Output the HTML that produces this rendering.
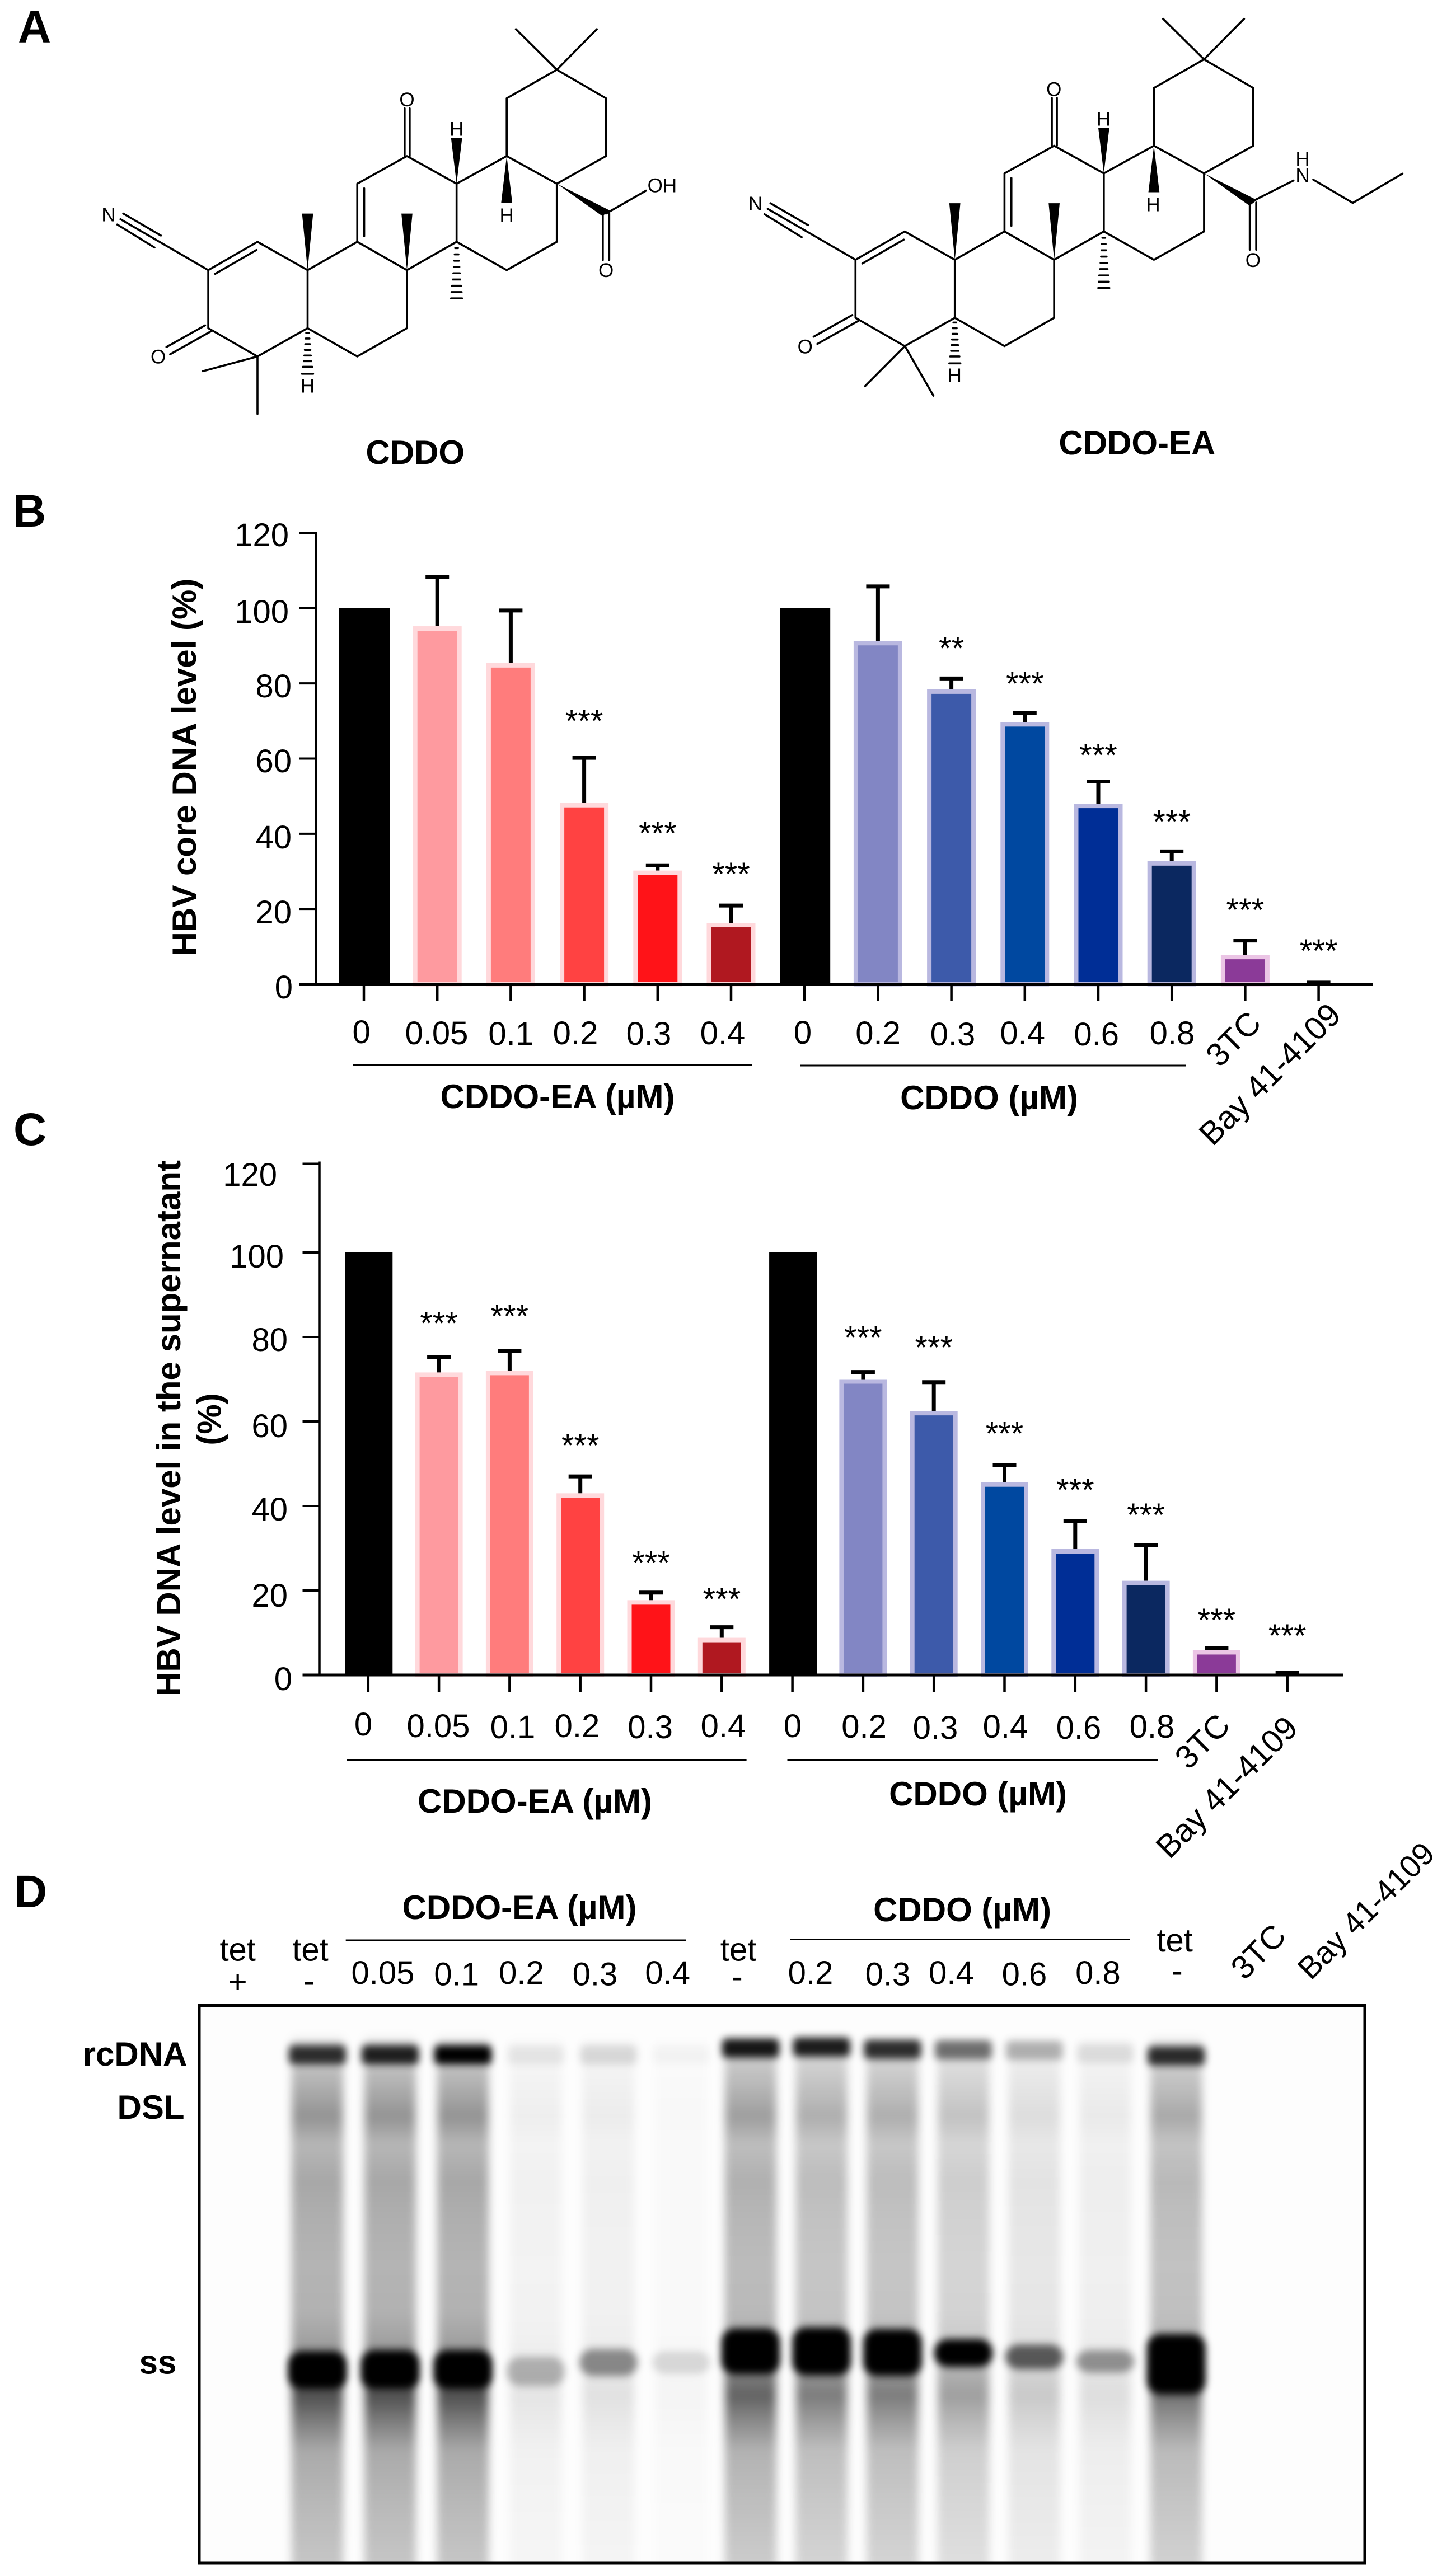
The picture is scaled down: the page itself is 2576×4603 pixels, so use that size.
<!DOCTYPE html>
<html lang="en">
<head>
<meta charset="utf-8">
<title>CDDO and CDDO-EA inhibit HBV DNA</title>
<style>
html,body{margin:0;padding:0;background:#fff}
svg{display:block}
text{font-family:"Liberation Sans",Arial,sans-serif;fill:#000}
.t{font-size:58px}
.b{font-size:60px;font-weight:bold}
.m{text-anchor:middle}
.e{text-anchor:end}
.p{font-size:82px;font-weight:bold}
.a{font-size:35px;text-anchor:middle}
.s{font-size:58px}
.bond{fill:none;stroke:#000;stroke-width:3.6;stroke-linecap:round;stroke-linejoin:round}
.bond path,.bond line{vector-effect:non-scaling-stroke}
</style>
</head>
<body>
<svg id="figure" xmlns="http://www.w3.org/2000/svg" width="2576" height="4603" viewBox="0 0 2576 4603">
<defs>
  <g id="steroid-core">
    <path class="bond" vector-effect="non-scaling-stroke" d="M453 860L560 770L669 860L669 1045L560 1135L453 1045L453 860M468 872L558 796M453 860L262 698M268 680L350 750M255 715L336 788M446 1036L362 1105M460 1054L370 1128M669 860L777 770L885 860L885 1045L777 1135L669 1045M777 770L777 585L885 497L993 585L993 770L885 860M792 752L792 600M880 497L880 345M891 497L891 345M993 585L1102 497L1211 585L1211 770L1102 860L993 770M1102 497L1102 313L1211 222L1318 313L1318 497L1211 585M1211 222L1122 93M1211 222L1298 93"/>
    <path fill="#000" d="M669 860L657 680L681 680ZM885 860L873 680L897 680ZM993 585L981 440L1005 440ZM1102 497L1090 645L1114 645ZM1211 585L1326 670L1310 688Z"/>
    <path class="bond" vector-effect="non-scaling-stroke" d="M666 1060H672M665 1078H673M664 1096H674M663 1114H675M662 1132H676M661 1150H677M659 1168H679M657 1190H681M990 790H996M989 810H997M988 830H998M987 850H999M986 870H1000M985 890H1001M983 910H1003M982 930H1004M981 950H1005"/>
  </g>
  <clipPath id="gel-clip"><rect x="356" y="3584" width="2082" height="996"/></clipPath>
  <filter id="smear-blur" filterUnits="userSpaceOnUse" x="300" y="3540" width="2200" height="1100"><feGaussianBlur stdDeviation="8"/></filter>
  <filter id="band-blur" filterUnits="userSpaceOnUse" x="300" y="3540" width="2200" height="1100"><feGaussianBlur stdDeviation="7"/></filter>
  <linearGradient id="lane-gradient" gradientUnits="userSpaceOnUse" x1="0" y1="3640" x2="0" y2="4580">
    <stop offset="0" stop-color="#000" stop-opacity=".05"/>
    <stop offset=".03" stop-color="#000" stop-opacity=".2"/>
    <stop offset=".063" stop-color="#000" stop-opacity=".25"/>
    <stop offset=".151" stop-color="#000" stop-opacity=".42"/>
    <stop offset=".204" stop-color="#000" stop-opacity=".28"/>
    <stop offset=".274" stop-color="#000" stop-opacity=".34"/>
    <stop offset=".346" stop-color="#000" stop-opacity=".31"/>
    <stop offset=".434" stop-color="#000" stop-opacity=".29"/>
    <stop offset=".522" stop-color="#000" stop-opacity=".3"/>
    <stop offset=".576" stop-color="#000" stop-opacity=".36"/>
    <stop offset=".682" stop-color="#000" stop-opacity=".68"/>
    <stop offset=".726" stop-color="#000" stop-opacity=".52"/>
    <stop offset=".787" stop-color="#000" stop-opacity=".33"/>
    <stop offset=".876" stop-color="#000" stop-opacity=".28"/>
    <stop offset=".99" stop-color="#000" stop-opacity=".22"/>
  </linearGradient>
</defs>

<!-- Panel A -->
<text class="p" x="32" y="76">A</text>
<g>
  <g transform="scale(.8214 .5612)">
    <use href="#steroid-core"/>
    <path class="bond" vector-effect="non-scaling-stroke" d="M560 1135L441 1182M560 1135L560 1318M1318 680L1405 607M1311 680L1311 828M1325 680L1325 828"/>
  </g>
  <text class="a" x="193.9" y="395.5">N</text>
  <text class="a" x="282.6" y="649.5">O</text>
  <text class="a" x="549.5" y="701.7">H</text>
  <text class="a" x="727" y="189.8">O</text>
  <text class="a" x="815.7" y="242.5">H</text>
  <text class="a" x="905.2" y="396.9">H</text>
  <text class="a" x="1182.9" y="343.5">OH</text>
  <text class="a" x="1082.6" y="495.2">O</text>
</g>
<text class="b m" x="741.7" y="829">CDDO</text>

<g>
  <g transform="translate(1156.2 -18.5) scale(.8214 .5612)">
    <use href="#steroid-core"/>
  </g>
  <g transform="translate(1288 0) scale(.8214 .5612)">
    <path class="bond" vector-effect="non-scaling-stroke" d="M400 1102L313 1230M400 1102L462 1260M1157 640L1245 575M1288 572L1374 646L1482 553M1150 645L1150 795M1164 645L1164 795"/>
  </g>
  <text class="a" x="1349.6" y="376.2">N</text>
  <text class="a" x="1438.3" y="631.5">O</text>
  <text class="a" x="1705.3" y="683.2">H</text>
  <text class="a" x="1882.7" y="171.3">O</text>
  <text class="a" x="1971.4" y="224.5">H</text>
  <text class="a" x="2060" y="377.3">H</text>
  <text class="a" x="2238.4" y="477.2">O</text>
  <text class="a" x="2327" y="325.5">N</text>
  <text class="a" x="2327" y="295.9">H</text>
</g>
<text class="b m" x="2031.4" y="812">CDDO-EA</text>

<!-- Panel B -->
<text class="p" x="23" y="941">B</text>
<g id="chart-b">
  <text class="b m" transform="translate(350 1371) rotate(-90)">HBV core DNA level (%)</text>
  <g>
    <text class="t e" x="516" y="976">120</text>
    <text class="t e" x="516" y="1113">100</text>
    <text class="t e" x="521" y="1246">80</text>
    <text class="t e" x="521" y="1380">60</text>
    <text class="t e" x="521" y="1516">40</text>
    <text class="t e" x="521" y="1650">20</text>
    <text class="t e" x="523" y="1784">0</text>
  </g>
  <g>
    <text class="t m" x="645.6" y="1864">0</text>
    <text class="t m" x="780" y="1866">0.05</text>
    <text class="t m" x="912.7" y="1867">0.1</text>
    <text class="t m" x="1028" y="1866">0.2</text>
    <text class="t m" x="1159" y="1867">0.3</text>
    <text class="t m" x="1291" y="1866">0.4</text>
    <text class="t m" x="1434" y="1865">0</text>
    <text class="t m" x="1568.6" y="1866">0.2</text>
    <text class="t m" x="1702" y="1868">0.3</text>
    <text class="t m" x="1826.7" y="1866">0.4</text>
    <text class="t m" x="1958.7" y="1868">0.6</text>
    <text class="t m" x="2094" y="1866">0.8</text>
    <text class="t m" transform="translate(2203 1856) rotate(-45)" dy=".35em">3TC</text>
    <text class="t m" transform="translate(2268 1919) rotate(-45)" dy=".35em">Bay 41-4109</text>
  </g>
  <rect x="630" y="1901.5" width="714" height="3"/>
  <rect x="1430" y="1902.5" width="688" height="3"/>
  <text class="b m" x="996" y="1980">CDDO-EA (µM)</text>
  <text class="b m" x="1767" y="1982">CDDO (µM)</text>
</g>

<!-- Panel C -->
<text class="p" x="24" y="2046">C</text>
<g id="chart-c">
  <text class="b m" transform="translate(322 2552) rotate(-90)">HBV DNA level in the supernatant</text>
  <text class="b m" transform="translate(394.5 2536) rotate(-90)">(%)</text>
  <g>
    <text class="t e" x="495" y="2119">120</text>
    <text class="t e" x="507" y="2265">100</text>
    <text class="t e" x="514" y="2414">80</text>
    <text class="t e" x="514" y="2568">60</text>
    <text class="t e" x="514" y="2717">40</text>
    <text class="t e" x="514" y="2871">20</text>
    <text class="t e" x="522" y="3020">0</text>
  </g>
  <g>
    <text class="t m" x="649" y="3101">0</text>
    <text class="t m" x="783" y="3104">0.05</text>
    <text class="t m" x="916" y="3106">0.1</text>
    <text class="t m" x="1031" y="3104">0.2</text>
    <text class="t m" x="1161.6" y="3106">0.3</text>
    <text class="t m" x="1292" y="3104">0.4</text>
    <text class="t m" x="1416" y="3104">0</text>
    <text class="t m" x="1543.6" y="3105">0.2</text>
    <text class="t m" x="1671" y="3107">0.3</text>
    <text class="t m" x="1796" y="3105">0.4</text>
    <text class="t m" x="1927" y="3107">0.6</text>
    <text class="t m" x="2058" y="3105">0.8</text>
    <text class="t m" transform="translate(2147.5 3111) rotate(-45)" dy=".35em">3TC</text>
    <text class="t m" transform="translate(2191 3193) rotate(-45)" dy=".35em">Bay 41-4109</text>
  </g>
  <rect x="619.6" y="3143" width="714" height="3"/>
  <rect x="1406.5" y="3143" width="661.5" height="3"/>
  <text class="b m" x="955.5" y="3239">CDDO-EA (µM)</text>
  <text class="b m" x="1747" y="3226">CDDO (µM)</text>
</g>

<!-- Panel D -->
<text class="p" x="25" y="3408">D</text>
<g>
  <text class="t m" x="424.7" y="3503.6">tet</text>
  <text class="t m" x="424.7" y="3561">+</text>
  <text class="t m" x="554.5" y="3503.6">tet</text>
  <text class="t m" x="552" y="3560">-</text>
  <text class="b m" x="928" y="3429">CDDO-EA (µM)</text>
  <rect x="617.7" y="3465.5" width="608" height="3"/>
  <text class="t m" x="684" y="3545">0.05</text>
  <text class="t m" x="815.7" y="3547.6">0.1</text>
  <text class="t m" x="931.5" y="3545">0.2</text>
  <text class="t m" x="1063" y="3547.6">0.3</text>
  <text class="t m" x="1192.7" y="3545">0.4</text>
  <text class="t m" x="1319" y="3503.6">tet</text>
  <text class="t m" x="1317" y="3552">-</text>
  <text class="b m" x="1719" y="3433">CDDO (µM)</text>
  <rect x="1412" y="3464" width="607" height="3"/>
  <text class="t m" x="1448" y="3545">0.2</text>
  <text class="t m" x="1586" y="3547.6">0.3</text>
  <text class="t m" x="1699.5" y="3545">0.4</text>
  <text class="t m" x="1830" y="3547.6">0.6</text>
  <text class="t m" x="1961.5" y="3545">0.8</text>
  <text class="t m" x="2098.7" y="3487">tet</text>
  <text class="t m" x="2103" y="3542">-</text>
  <text class="t m" transform="translate(2247.5 3487) rotate(-45)" dy=".35em">3TC</text>
  <text class="t m" style="font-size:56px" transform="translate(2440 3414) rotate(-45)" dy=".35em">Bay 41-4109</text>
</g>
<text class="b m" x="241" y="3691">rcDNA</text>
<text class="b m" x="269.5" y="3786">DSL</text>
<text class="b m" x="282" y="4241.6">ss</text>
<rect x="356" y="3584" width="2082" height="996" fill="#fdfdfd"/>
<g clip-path="url(#gel-clip)">
  <g id="gel-smears" filter="url(#smear-blur)"></g>
  <g id="gel-bands" filter="url(#band-blur)"></g>
</g>
<rect x="356" y="3583.5" width="2082" height="996.5" fill="none" stroke="#000" stroke-width="5"/>
</svg>

<script>
// --- Shared categories ---
const categories = ['0', '0.05', '0.1', '0.2', '0.3', '0.4', '0', '0.2', '0.3', '0.4', '0.6', '0.8', '3TC', 'Bay 41-4109'];
const barFills = ['#000000', '#fe9a9f', '#ff7c7c', '#ff4242', '#ff1318', '#b01820', '#000000', '#8286c4', '#3d5aaa', '#0048a0', '#002e96', '#0b2860', '#8b3a98', '#ffffff'];
const barEdges = ['#000000', '#ffd9dc', '#ffd9dc', '#ffd9dc', '#ffd9dc', '#ffd9dc', '#000000', '#b9b8e0', '#b9b8e0', '#b9b8e0', '#b9b8e0', '#b9b8e0', '#ebc5e5', '#ffffff'];

// --- Panel B: HBV core DNA level (%) ---
const coreTicks = [0, 20, 40, 60, 80, 100, 120];
const coreValues = [100, 95.2, 85.4, 48.2, 30.2, 16.3, 100, 91.3, 78.4, 69.7, 48, 32.7, 7.8, 0];
const coreErrorTops = [null, 108.3, 99.4, 60.2, 31.6, 20.9, null, 105.8, 81.3, 72.2, 53.9, 35.3, 11.6, 0.4];
const coreStars = ['', '', '', '***', '***', '***', '', '', '**', '***', '***', '***', '***', '***'];
const coreStarLevels = [0, 0, 0, 71, 41.2, 30.3, 0, 0, 90.4, 81, 61.9, 44.2, 20.8, 9.9];

// --- Panel C: HBV DNA level in the supernatant (%) ---
const supTicks = [0, 20, 40, 60, 80, 100, 121];
const supValues = [100, 71.6, 72, 43, 17.7, 8.8, 100, 70, 62.5, 45.6, 29.8, 22.3, 5.9, 0];
const supErrorTops = [null, 75.3, 76.7, 47, 19.5, 11.3, null, 71.7, 69.3, 49.7, 36.4, 30.8, 6.3, 0.6];
const supStars = ['', '***', '***', '***', '***', '***', '', '***', '***', '***', '***', '***', '***', '***'];
const supStarLevels = [0, 84.2, 85.8, 55.2, 27.5, 18.9, 0, 80.8, 78.4, 58.1, 44.7, 38.8, 13.9, 10.2];

// --- Panel D: relative lane signal, read by eye (0 = none, 1 = saturated) ---
const laneNames = ['tet-', 'ea-0.05', 'ea-0.1', 'ea-0.2', 'ea-0.3', 'ea-0.4', 'tet-', 'cddo-0.2', 'cddo-0.3', 'cddo-0.4', 'cddo-0.6', 'cddo-0.8', 'tet-'];
const rcSignal = [.78, .85, 1, .07, .12, .03, .9, .88, .8, .52, .27, .1, .8];
const smearSignal = [1, 1.05, 1.05, .14, .16, .05, .9, .75, .75, .55, .3, .18, .8];
const ssSignal = [1, 1, 1, .26, .42, .13, 1, 1, 1, 1, .6, .38, 1];
const ssSpread = [68, 70, 70, 52, 48, 40, 82, 86, 84, 50, 44, 40, 108];
const rcMigration = [8.8, 8.8, 8.8, 8.8, 8.8, 8.8, 7.6, 7.4, 7.8, 7.9, 8, 8.5, 9];
const ssMigration = [65.4, 65.3, 65.3, 65.6, 64, 64, 62, 62, 62.2, 62.3, 63, 63.8, 64.3];

const NS = 'http://www.w3.org/2000/svg';
function mk(tag, parent, attrs) {
  const node = document.createElementNS(NS, tag);
  for (const k in attrs) node.setAttribute(k, attrs[k]);
  parent.appendChild(node);
  return node;
}

function drawBarChart(root, values, errorTops, stars, starLevels, ticks, g) {
  const y = v => g.base - v * g.unit;
  const x = i => g.x0 + g.step * i;

  // y axis
  const yAxis = mk('line', root, {x1: g.axisX, x2: g.axisX, y1: g.axisTop, y2: g.base + 2, stroke: '#000', 'stroke-width': 4.5});
  
  
  ticks.forEach(t => {
    const tick = mk('line', root, {x1: g.axisX - 30, x2: g.axisX, y1: y(t), y2: y(t), stroke: '#000', 'stroke-width': 4});
    
    
  });

  // bars, error bars, significance marks
  categories.forEach((c, i) => {
    const filled = barFills[i] === barEdges[i];
    const w = filled ? g.blackWidth : g.barWidth;
    const lw = filled ? 0 : 8;
    const cx = x(i) + (filled ? 1 : 0);
    if (errorTops[i] !== null) {
      const top = y(errorTops[i]);
      const stem = mk('line', root, {x1: x(i), x2: x(i), y1: y(values[i]), y2: top, stroke: '#000', 'stroke-width': 7});
      
      
      const cap = mk('line', root, {x1: x(i) - 21, x2: x(i) + 21, y1: top, y2: top, stroke: '#000', 'stroke-width': 7});
      
      
    }
    if (values[i] > 0) {
      const bar = mk('rect', root, {
        x: cx - w / 2 + lw / 2, y: y(values[i]) + lw / 2,
        width: w - lw, height: Math.max(0, g.base - y(values[i]) - lw / 2),
        fill: barFills[i], stroke: barEdges[i], 'stroke-width': lw
      });
      
      
    }
    const xt = mk('line', root, {x1: x(i), x2: x(i), y1: g.base, y2: g.base + 30, stroke: '#000', 'stroke-width': 4.5});
    
    
    if (stars[i]) {
      const s = mk('text', root, {x: x(i), y: y(starLevels[i]) + 27, class: 's m'});
      s.textContent = stars[i];
      
      
    }
  });

  // x axis
  const xAxis = mk('line', root, {x1: g.axisX - 30, x2: g.axisEnd, y1: g.base, y2: g.base, stroke: '#000', 'stroke-width': 5});
  
  
}

drawBarChart(document.getElementById('chart-b'), coreValues, coreErrorTops, coreStars, coreStarLevels, coreTicks,
  {base: 1758.5, unit: 6.717, x0: 650, step: 131.2, axisX: 564.5, axisTop: 950.5, axisEnd: 2452, barWidth: 87, blackWidth: 90});
drawBarChart(document.getElementById('chart-c'), supValues, supErrorTops, supStars, supStarLevels, supTicks,
  {base: 2993, unit: 7.55, x0: 657.8, step: 126.3, axisX: 570.5, axisTop: 2075.5, axisEnd: 2399, barWidth: 85, blackWidth: 85});

// --- Gel lanes ---
const smears = document.getElementById('gel-smears');
const bands = document.getElementById('gel-bands');
const laneX = i => i < 6 ? 567 + 130 * i : 1341 + 126.7 * (i - 6);
const gelY = pct => 3584 + pct * 9.96;
laneNames.forEach((name, i) => {
  const cx = laneX(i);
  const smear = mk('rect', smears, {x: cx - 46, y: 3640, width: 92, height: 960, fill: 'url(#lane-gradient)', opacity: Math.min(1, smearSignal[i])});
  
  
  const rc = mk('rect', bands, {x: cx - 51, y: gelY(rcMigration[i]) - 17, width: 102, height: 34, rx: 8, fill: '#000', opacity: rcSignal[i]});
  
  
  const ss = mk('rect', bands, {x: cx - 52, y: gelY(ssMigration[i]) - ssSpread[i] / 2, width: 104, height: ssSpread[i], rx: 24, fill: '#000', opacity: ssSignal[i]});
  
  
});
</script>
</body>
</html>
